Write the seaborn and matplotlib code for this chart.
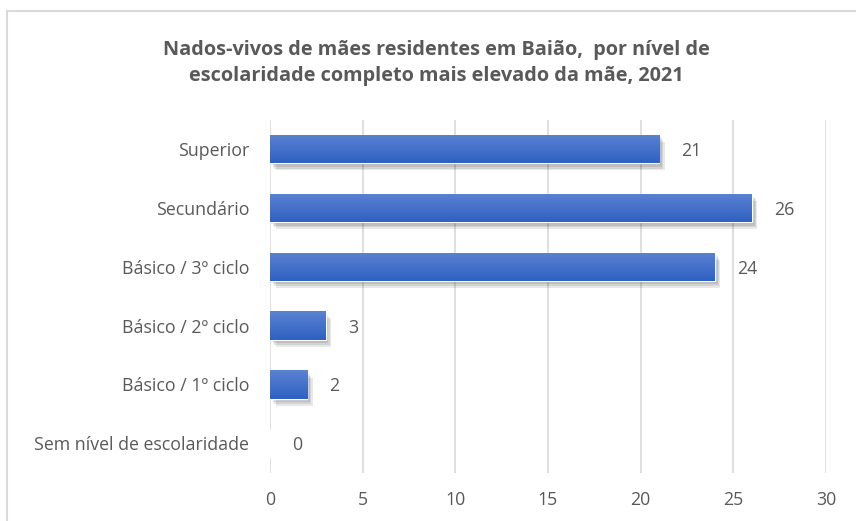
import numpy as np
import pandas as pd
import seaborn as sns
import matplotlib.pyplot as plt
import matplotlib.patches as mpatches
import matplotlib.patheffects as pe
from matplotlib.colors import LinearSegmentedColormap

# dados
niveis = ['Superior', 'Secundário', 'Básico / 3º ciclo', 'Básico / 2º ciclo',
          'Básico / 1º ciclo', 'Sem nível de escolaridade']
nados_vivos = [21, 26, 24, 3, 2, 0]
ticks_x = [0, 5, 10, 15, 20, 25, 30]
titulo = 'Nados-vivos de mães residentes em Baião,  por nível de\nescolaridade completo mais elevado da mãe, 2021'

df = pd.DataFrame({'nivel': niveis, 'valor': nados_vivos})

sns.set_style('white')
plt.rcParams['font.family'] = ['Open Sans', 'DejaVu Sans']

cinza_txt = '#595959'
cinza_grid = '#d9d9d9'

fig = plt.figure(figsize=(8.56, 5.21), dpi=100)
ax = fig.add_axes([0.3154, 0.0925, 0.6495, 0.678])

sns.barplot(data=df, y='nivel', x='valor', color='#4472c4', width=0.48,
            orient='h', ax=ax, zorder=3)

# gradiente + sombra difusa nas barras
grad = LinearSegmentedColormap.from_list('g', ['#5b82d2', '#2f61c2'])
sombra = [pe.SimplePatchShadow(offset=(o, -o * 1.3), shadow_rgbFace='#000000', alpha=0.09)
          for o in (1, 2, 3, 4)]
for bar in ax.patches:
    bar.set_path_effects(sombra + [pe.Normal()])
    x0, y0 = bar.get_x(), bar.get_y()
    w, h = bar.get_width(), bar.get_height()
    if w <= 0:
        continue
    im = ax.imshow(np.linspace(0, 1, 50).reshape(-1, 1), cmap=grad, aspect='auto',
                   extent=(x0, x0 + w, y0 + h, y0), zorder=4)
    im.set_clip_path(bar)

ax.set_xlim(0, 30)
ax.set_ylim(len(niveis) - 0.5, -0.5)
ax.set_xticks(ticks_x)
ax.set_xticklabels([str(t) for t in ticks_x])
ax.grid(axis='x', color=cinza_grid, linewidth=1.2, zorder=0)
ax.set_axisbelow(True)
for s in ax.spines.values():
    s.set_visible(False)
ax.set_xlabel('')
ax.set_ylabel('')
ax.tick_params(axis='both', length=0, labelsize=12.8, labelcolor=cinza_txt)
ax.tick_params(axis='y', pad=15)
ax.tick_params(axis='x', pad=13)

for i, v in enumerate(nados_vivos):
    ax.text(v + 1.2, i, str(v), va='center_baseline', ha='left', fontsize=12.8, color=cinza_txt)

fig.text(0.51, 0.88, titulo, ha='center', va='center', fontsize=14.3, fontweight='bold',
         color=cinza_txt, linespacing=1.4)

# moldura do gráfico
fig.patches.append(mpatches.Rectangle((0.0085, -0.1), 1.1, 1.078, transform=fig.transFigure,
                                      fill=False, edgecolor='#d9d9d9', linewidth=1.5))

plt.savefig('out.png', dpi=100)
